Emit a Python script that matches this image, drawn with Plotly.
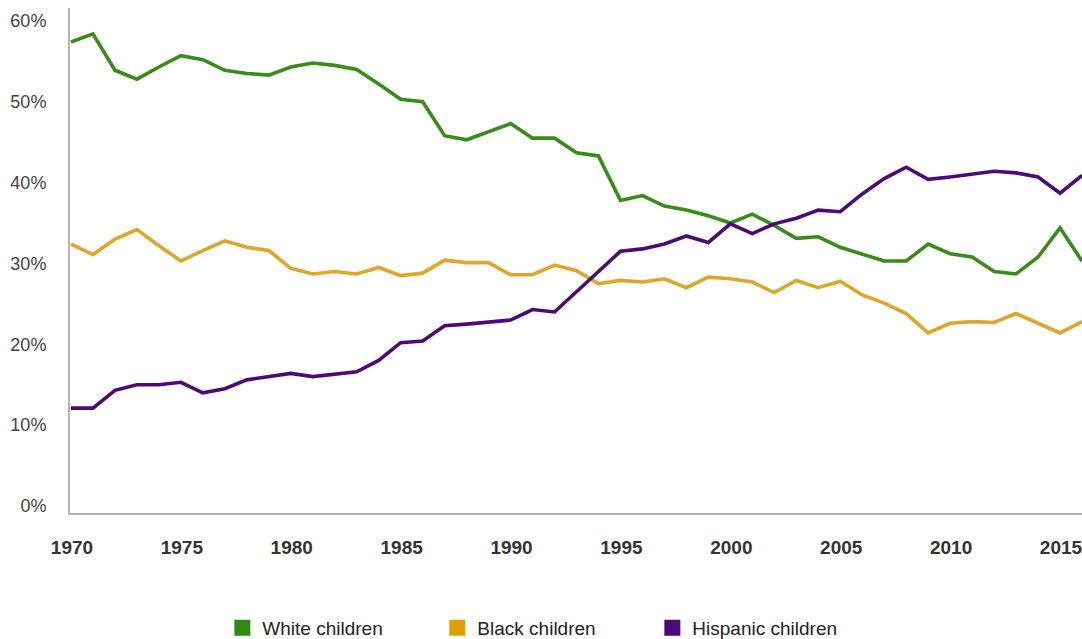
import plotly.graph_objects as go

# share of children in poverty by race/ethnicity, annual
years = list(range(1969, 2016))

white = [57.4, 58.4, 53.9, 52.8, 54.3, 55.7, 55.2, 53.9, 53.5, 53.3,
         54.3, 54.8, 54.5, 54.0, 52.2, 50.3, 50.0, 45.8, 45.3, 46.3,
         47.3, 45.5, 45.5, 43.7, 43.3, 37.8, 38.4, 37.1, 36.6, 35.9,
         35.0, 36.1, 34.7, 33.1, 33.3, 32.0, 31.1, 30.3, 30.3, 32.4,
         31.2, 30.8, 29.0, 28.7, 30.8, 34.4, 30.3]

black = [32.4, 31.1, 33.0, 34.2, 32.2, 30.3, 31.6, 32.8, 32.0, 31.6,
         29.4, 28.7, 29.0, 28.7, 29.5, 28.5, 28.8, 30.4, 30.1, 30.1,
         28.6, 28.6, 29.8, 29.1, 27.5, 27.9, 27.7, 28.1, 27.0, 28.3,
         28.1, 27.7, 26.4, 27.9, 27.0, 27.8, 26.1, 25.1, 23.8, 21.4,
         22.6, 22.8, 22.7, 23.8, 22.6, 21.4, 22.8]

hispanic = [12.1, 12.1, 14.3, 15.0, 15.0, 15.3, 14.0, 14.5, 15.6, 16.0,
            16.4, 16.0, 16.3, 16.6, 18.0, 20.2, 20.4, 22.3, 22.5, 22.7,
            23.0, 24.3, 24.0, 26.5, 29.0, 31.5, 31.8, 32.4, 33.4, 32.6,
            34.9, 33.7, 34.9, 35.6, 36.6, 36.4, 38.6, 40.5, 41.9, 40.4,
            40.7, 41.0, 41.4, 41.2, 40.7, 38.7, 40.9]

series = [
    ("White children", white, "#3a8a1c", "#2f8a12"),
    ("Black children", black, "#dca72a", "#e09f00"),
    ("Hispanic children", hispanic, "#4b0a76", "#4b0a7a"),
]

tick_years = [1970, 1975, 1980, 1985, 1990, 1995, 2000, 2005, 2010, 2015]
y_ticks = [0, 10, 20, 30, 40, 50, 60]

fig = go.Figure()

for name, vals, line_col, key_col in series:
    fig.add_trace(go.Scatter(
        x=years, y=vals, mode="lines", name=name,
        line=dict(color=line_col, width=3.6),
        showlegend=False, cliponaxis=False,
    ))

# square legend keys like the original
for name, vals, line_col, key_col in series:
    fig.add_trace(go.Scatter(
        x=[None], y=[None], mode="markers", name=name,
        marker=dict(symbol="square", size=19, color=key_col),
    ))

fig.update_layout(
    width=1082, height=639,
    margin=dict(l=70, r=0, t=8, b=126),
    paper_bgcolor="white", plot_bgcolor="white",
    font=dict(family="Liberation Sans, Arial, sans-serif", size=18, color="#444"),
    showlegend=True,
    legend=dict(
        orientation="h", xref="container", yref="container",
        x=0.2055, xanchor="left", y=0.0172, yanchor="middle",
        entrywidth=170, font=dict(size=19, color="#222"),
    ),
)

fig.update_xaxes(
    range=[1968.955, 2015.0],
    tickvals=tick_years, ticktext=[str(y) for y in tick_years],
    showgrid=False, zeroline=False, automargin=False,
    showline=True, linecolor="#b5b5b5", linewidth=2,
    ticks="", ticklabelstandoff=16, ticklabelshift=-21,
    ticklabeloverflow="allow",
    tickfont=dict(size=19, color="#333", family="Liberation Sans, Arial, sans-serif", weight="bold"),
)

fig.update_yaxes(
    range=[-0.87, 61.6],
    tickvals=y_ticks, ticktext=[f"{v}%" for v in y_ticks],
    showgrid=False, zeroline=False, automargin=False,
    showline=True, linecolor="#b5b5b5", linewidth=2,
    ticks="", ticklabelstandoff=18,
    tickfont=dict(size=18, color="#444"),
)

# drop the default page margin so the figure fills the window
fig.write_html(
    "out.html",
    config={"displayModeBar": False},
    post_script="document.body.style.margin='0';document.body.style.overflow='hidden';",
)
